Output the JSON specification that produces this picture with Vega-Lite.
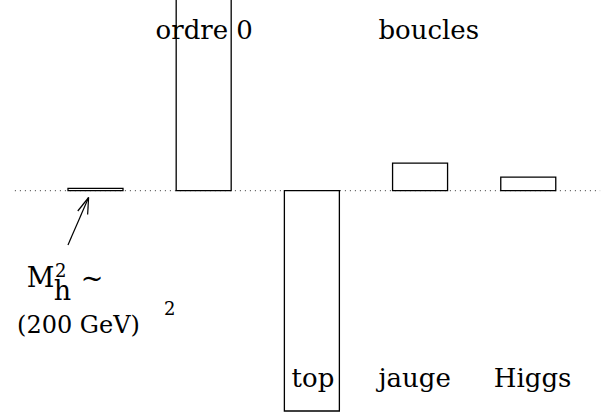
{
  "$schema": "https://vega.github.io/schema/vega-lite/v6.json",
  "width": 609,
  "height": 415,
  "padding": 0,
  "autosize": {"type": "none"},
  "background": "white",
  "config": {"view": {"stroke": null}},
  "datasets": {
    "bars": [
      {"name": "Mh", "slot": 0, "value": 2.4},
      {"name": "ordre 0", "slot": 1, "value": 196},
      {"name": "top", "slot": 2, "value": -220.3},
      {"name": "jauge", "slot": 3, "value": 27.5},
      {"name": "Higgs", "slot": 4, "value": 13.6}
    ],
    "labels": [
      {"text": "ordre 0", "slot": 1.005, "value": 151.7},
      {"text": "boucles", "slot": 3.08, "value": 151.7},
      {"text": "top", "slot": 2.01, "value": -196},
      {"text": "jauge", "slot": 2.95, "value": -196},
      {"text": "Higgs", "slot": 4.04, "value": -196}
    ],
    "big": [
      {"text": "M", "slot": -0.635, "value": -96.3},
      {"text": "h", "slot": -0.385, "value": -109.3},
      {"text": "~", "slot": -0.136, "value": -96.8}
    ],
    "mid": [
      {"text": "(200 GeV)", "slot": -0.725, "value": -142.3}
    ],
    "small": [
      {"text": "2", "slot": -0.375, "value": -86.3},
      {"text": "2", "slot": 0.634, "value": -124.3}
    ],
    "arrow": [
      {"slot": -0.2545, "value": -54.3, "slot2": -0.0636, "value2": -6.8},
      {"slot": -0.0636, "value": -6.8, "slot2": -0.1636, "value2": -20.3},
      {"slot": -0.0636, "value": -6.8, "slot2": -0.0727, "value2": -23.8}
    ],
    "baseline": [
      {"slot": -0.745, "value": 0, "slot2": 4.664}
    ]
  },
  "layer": [
    {
      "data": {"name": "baseline"},
      "mark": {"type": "rule", "color": "#333333", "strokeWidth": 1, "strokeDash": [1, 4]},
      "encoding": {
        "x": {"field": "slot", "type": "quantitative", "scale": {"domain": [-0.8364, 4.7], "nice": false, "zero": false}, "axis": null},
        "x2": {"field": "slot2"},
        "y": {"field": "value", "type": "quantitative", "scale": {"domain": [-224.3, 190.7], "nice": false, "zero": false}, "axis": null}
      }
    },
    {
      "data": {"name": "bars"},
      "mark": {"type": "bar", "width": 55, "fill": "white", "stroke": "black", "strokeWidth": 1.3},
      "encoding": {
        "x": {"field": "slot", "type": "quantitative"},
        "y": {"field": "value", "type": "quantitative"},
        "y2": {"datum": 0}
      }
    },
    {
      "data": {"name": "arrow"},
      "mark": {"type": "rule", "color": "black", "strokeWidth": 1.2},
      "encoding": {
        "x": {"field": "slot", "type": "quantitative"},
        "y": {"field": "value", "type": "quantitative"},
        "x2": {"field": "slot2"},
        "y2": {"field": "value2"}
      }
    },
    {
      "data": {"name": "labels"},
      "mark": {"type": "text", "font": "DejaVu Serif", "fontSize": 26, "align": "center", "baseline": "alphabetic", "color": "black"},
      "encoding": {
        "x": {"field": "slot", "type": "quantitative"},
        "y": {"field": "value", "type": "quantitative"},
        "text": {"field": "text"}
      }
    },
    {
      "data": {"name": "big"},
      "mark": {"type": "text", "font": "DejaVu Serif", "fontSize": 27, "align": "left", "baseline": "alphabetic", "color": "black"},
      "encoding": {
        "x": {"field": "slot", "type": "quantitative"},
        "y": {"field": "value", "type": "quantitative"},
        "text": {"field": "text"}
      }
    },
    {
      "data": {"name": "mid"},
      "mark": {"type": "text", "font": "DejaVu Serif", "fontSize": 24, "align": "left", "baseline": "alphabetic", "color": "black"},
      "encoding": {
        "x": {"field": "slot", "type": "quantitative"},
        "y": {"field": "value", "type": "quantitative"},
        "text": {"field": "text"}
      }
    },
    {
      "data": {"name": "small"},
      "mark": {"type": "text", "font": "DejaVu Serif", "fontSize": 18, "align": "left", "baseline": "alphabetic", "color": "black"},
      "encoding": {
        "x": {"field": "slot", "type": "quantitative"},
        "y": {"field": "value", "type": "quantitative"},
        "text": {"field": "text"}
      }
    }
  ]
}
